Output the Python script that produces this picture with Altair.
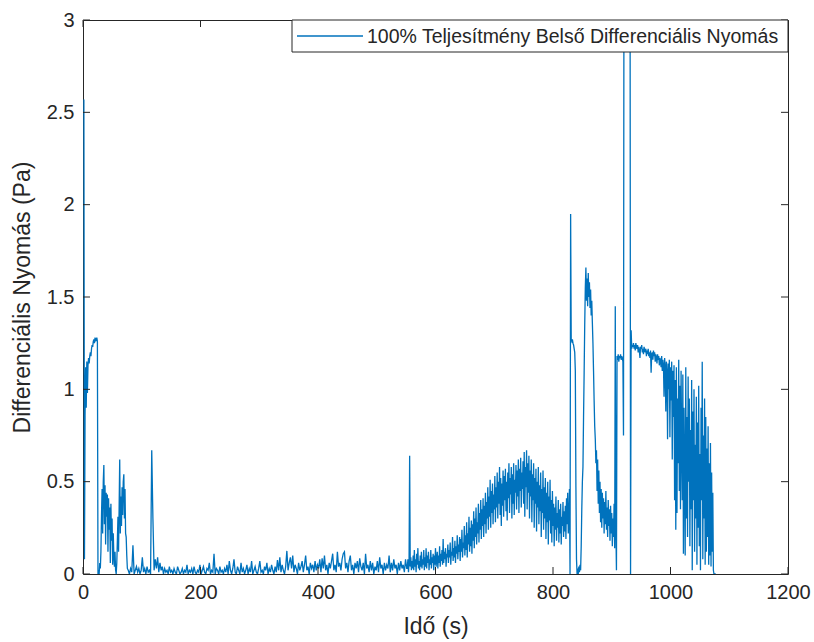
import altair as alt
import pandas as pd

# ---------------- data ----------------
# segment 1: start-up, 1.5..25.5 s every 1 s
seg1_t0, seg1_dt = 1.5, 1
seg1_vals = [2.57, 0.08, 0.86, 1.12, 0.9, 1.15, 0.98, 1.13, 1.17, 1.14,
             1.18, 1.2, 1.18, 1.22, 1.24, 1.23, 1.26, 1.27, 1.25, 1.28,
             1.26, 1.27, 1.28, 1.26, 0.0]

# segment 2: early bursts, 26.5..75.5 s every 1 s
seg2_t0, seg2_dt = 26.5, 1
seg2_vals = [0.02, 0.0, 0.06, 0.03, 0.12, 0.32, 0.46, 0.22, 0.5, 0.59,
             0.27, 0.48, 0.16, 0.44, 0.31, 0.43, 0.12, 0.41, 0.24, 0.36,
             0.06, 0.38, 0.18, 0.3, 0.05, 0.22, 0.1, 0.04, 0.12, 0.02,
             0.0, 0.06, 0.18, 0.31, 0.12, 0.36, 0.62, 0.22, 0.42, 0.26,
             0.47, 0.32, 0.5, 0.54, 0.3, 0.46, 0.22, 0.2, 0.1, 0.03]

# segment 3: low baseline, 77..551 s every 2 s
seg3_t0, seg3_dt = 77, 2
seg3_vals = [0.02, 0.0, 0.03, 0.01, 0.155, 0.0, 0.02, 0.04, 0.01, 0.03,
             0.0, 0.02, 0.09, 0.01, 0.03, 0.0, 0.04, 0.01, 0.02, 0.0,
             0.67, 0.3, 0.02, 0.08, 0.03, 0.09, 0.01, 0.06, 0.02, 0.04,
             0.0, 0.03, 0.01, 0.02, 0.0, 0.04, 0.01, 0.02, 0.0, 0.03,
             0.01, 0.0, 0.04, 0.02, 0.0, 0.01, 0.03, 0.0, 0.02, 0.01,
             0.05, 0.0, 0.02, 0.01, 0.03, 0.0, 0.04, 0.01, 0.0, 0.02,
             0.01, 0.05, 0.0, 0.02, 0.04, 0.01, 0.0, 0.03, 0.02, 0.06,
             0.0, 0.02, 0.01, 0.11, 0.0, 0.03, 0.02, 0.0, 0.04, 0.01,
             0.02, 0.0, 0.03, 0.01, 0.05, 0.0, 0.07, 0.02, 0.0, 0.03,
             0.08, 0.01, 0.0, 0.04, 0.02, 0.0, 0.06, 0.01, 0.03, 0.0,
             0.02, 0.05, 0.0, 0.03, 0.01, 0.07, 0.0, 0.02, 0.04, 0.01,
             0.0, 0.03, 0.07, 0.01, 0.02, 0.0, 0.04, 0.02, 0.06, 0.0,
             0.03, 0.01, 0.05, 0.02, 0.0, 0.04, 0.01, 0.075, 0.02, 0.09,
             0.01, 0.05, 0.02, 0.0, 0.04, 0.125, 0.02, 0.06, 0.09, 0.03,
             0.1, 0.01, 0.05, 0.03, 0.0, 0.06, 0.02, 0.04, 0.07, 0.01,
             0.05, 0.1, 0.02, 0.04, 0.0, 0.06, 0.03, 0.05, 0.01, 0.07,
             0.02, 0.05, 0.03, 0.08, 0.01, 0.085, 0.03, 0.1, 0.02, 0.05,
             0.0, 0.06, 0.03, 0.07, 0.11, 0.02, 0.05, 0.01, 0.12, 0.04,
             0.06, 0.02, 0.08, 0.11, 0.12, 0.03, 0.06, 0.01, 0.07, 0.1,
             0.02, 0.05, 0.0, 0.06, 0.03, 0.07, 0.01, 0.085, 0.04, 0.02,
             0.06, 0.0, 0.11, 0.03, 0.05, 0.01, 0.07, 0.02, 0.06, 0.0,
             0.04, 0.02, 0.07, 0.01, 0.09, 0.03, 0.05, 0.0, 0.06, 0.02,
             0.05, 0.03, 0.1, 0.01, 0.06, 0.02, 0.08, 0.03, 0.05, 0.0,
             0.06, 0.02, 0.07, 0.03, 0.05, 0.01, 0.08, 0.03]

# segment 4: rising hump, 552..827 s every 1 s
seg4_t0, seg4_dt = 552, 1
seg4_vals = [0.03, 0.08, 0.01, 0.06, 0.64, 0.04, 0.09, 0.02, 0.07, 0.03,
             0.1, 0.02, 0.13, 0.04, 0.08, 0.01, 0.11, 0.05, 0.14, 0.03,
             0.07, 0.02, 0.1, 0.04, 0.12, 0.03, 0.08, 0.05, 0.13, 0.02,
             0.09, 0.04, 0.14, 0.03, 0.1, 0.06, 0.12, 0.02, 0.08, 0.05,
             0.13, 0.03, 0.09, 0.06, 0.11, 0.02, 0.1, 0.05, 0.14, 0.04,
             0.08, 0.12, 0.03, 0.1, 0.06, 0.15, 0.04, 0.11, 0.07, 0.13,
             0.05, 0.19, 0.06, 0.12, 0.08, 0.14, 0.04, 0.11, 0.09, 0.16,
             0.06, 0.13, 0.09, 0.17, 0.05, 0.12, 0.1, 0.2, 0.07, 0.14,
             0.09, 0.18, 0.06, 0.15, 0.11, 0.21, 0.08, 0.16, 0.12, 0.2,
             0.07, 0.19, 0.12, 0.24, 0.09, 0.17, 0.14, 0.26, 0.1, 0.21,
             0.13, 0.28, 0.09, 0.22, 0.16, 0.31, 0.12, 0.25, 0.15, 0.29,
             0.11, 0.27, 0.18, 0.34, 0.14, 0.3, 0.2, 0.36, 0.16, 0.28,
             0.22, 0.38, 0.17, 0.33, 0.24, 0.4, 0.19, 0.35, 0.26, 0.41,
             0.2, 0.37, 0.27, 0.44, 0.22, 0.39, 0.3, 0.47, 0.24, 0.42,
             0.31, 0.51, 0.25, 0.45, 0.33, 0.49, 0.27, 0.43, 0.35, 0.53,
             0.28, 0.47, 0.36, 0.55, 0.3, 0.5, 0.38, 0.58, 0.32, 0.52,
             0.26, 0.49, 0.37, 0.56, 0.31, 0.53, 0.4, 0.57, 0.34, 0.5,
             0.29, 0.55, 0.41, 0.6, 0.33, 0.52, 0.43, 0.58, 0.3, 0.54,
             0.38, 0.6, 0.32, 0.51, 0.44, 0.59, 0.35, 0.56, 0.42, 0.62,
             0.33, 0.57, 0.45, 0.63, 0.36, 0.55, 0.46, 0.61, 0.38, 0.66,
             0.31, 0.58, 0.47, 0.67, 0.35, 0.6, 0.44, 0.64, 0.3, 0.56,
             0.42, 0.62, 0.28, 0.54, 0.4, 0.6, 0.25, 0.52, 0.38, 0.57,
             0.23, 0.5, 0.36, 0.58, 0.27, 0.48, 0.34, 0.55, 0.2, 0.46,
             0.33, 0.56, 0.24, 0.47, 0.3, 0.52, 0.19, 0.44, 0.28, 0.5,
             0.16, 0.42, 0.29, 0.51, 0.22, 0.4, 0.17, 0.45, 0.26, 0.38,
             0.15, 0.36, 0.24, 0.42, 0.18, 0.33, 0.25, 0.4, 0.17, 0.35,
             0.22, 0.38, 0.16, 0.31, 0.26, 0.39, 0.2, 0.34, 0.23, 0.37,
             0.19, 0.41, 0.27, 0.44, 0.22, 0.3]

# segment 5: spikes, plateau and noisy end, 828..1077 s every 1 s
seg5_t0, seg5_dt = 828, 1
seg5_vals = [0.46, 0.0, 1.95, 1.27, 1.26, 1.27, 1.25, 1.24, 1.22, 1.2,
             1.1, 0.47, 0.08, 0.0, 0.03, 0.0, 0.04, 0.01, 0.05, 0.02,
             0.15, 0.35, 0.5, 0.58, 0.85, 1.09, 1.35, 1.55, 1.66, 1.48,
             1.6, 1.45, 1.63, 1.5, 1.58, 1.44, 1.54, 1.4, 1.48, 1.36,
             1.25, 1.1, 0.94, 0.8, 0.73, 0.6, 0.67, 0.45, 0.62, 0.38,
             0.56, 0.33, 0.5, 0.28, 0.46, 0.25, 0.44, 0.3, 0.41, 0.22,
             0.39, 0.27, 0.45, 0.24, 0.36, 0.2, 0.4, 0.26, 0.35, 0.18,
             0.37, 0.22, 0.33, 0.15, 0.3, 0.2, 0.38, 0.14, 1.45, 0.25,
             0.02, 1.18, 1.16, 1.19, 1.15, 1.18, 1.17, 1.19, 1.16, 1.18,
             1.17, 1.15, 0.75, 4.0, 4.0, 4.0, 4.0, 4.0, 4.0, 4.0,
             4.0, 4.0, 4.0, 4.0, 0.0, 1.32, 1.22, 1.24, 1.23, 1.25,
             1.22, 1.24, 1.21, 1.25, 1.23, 1.22, 1.24, 1.2, 1.23, 1.21,
             1.17, 1.23, 1.22, 1.24, 1.2, 1.22, 1.19, 1.23, 1.21, 1.2,
             1.22, 1.18, 1.21, 1.19, 1.22, 1.18, 1.2, 1.17, 1.21, 1.09,
             1.19, 1.2, 1.16, 1.21, 1.18, 1.2, 1.15, 1.19, 1.17, 1.14,
             1.19, 1.16, 1.18, 1.13, 1.17, 1.15, 1.12, 1.18, 1.1, 1.16,
             1.13, 0.96, 1.17, 1.12, 0.88, 1.15, 1.09, 0.73, 1.14, 1.0,
             1.16, 0.74, 1.12, 0.94, 1.15, 0.62, 1.1, 0.85, 1.13, 0.4,
             1.05, 0.24, 1.12, 0.33, 0.95, 0.6, 1.16, 0.45, 1.02, 0.35,
             1.1, 0.7, 0.4, 1.08, 0.11, 0.9, 0.55, 0.1, 1.12, 0.3,
             0.85, 0.2, 1.07, 0.5, 0.95, 0.15, 0.78, 0.35, 1.05, 0.02,
             0.88, 0.4, 1.0, 0.12, 0.7, 0.3, 0.96, 0.05, 0.82, 0.25,
             1.02, 0.15, 0.65, 0.02, 0.9, 0.4, 1.15, 0.08, 0.75, 0.3,
             0.95, 0.05, 0.85, 0.12, 0.68, 0.2, 0.8, 0.05, 0.6, 0.1,
             0.71, 0.04, 0.55, 0.12, 0.44, 0.02, 0.0, 0.0, 0.0, 0.0]

x_tick_values = [0, 200, 400, 600, 800, 1000, 1200]
y_tick_values = [0, 0.5, 1, 1.5, 2, 2.5, 3]
x_title = "Idő (s)"
y_title = "Differenciális Nyomás (Pa)"
legend_label = "100% Teljesítmény Belső Differenciális Nyomás"

# ---------------- table ----------------
segments = [(seg1_t0, seg1_dt, seg1_vals), (seg2_t0, seg2_dt, seg2_vals),
            (seg3_t0, seg3_dt, seg3_vals), (seg4_t0, seg4_dt, seg4_vals),
            (seg5_t0, seg5_dt, seg5_vals)]
times, values = [], []
for t0, dt, vals in segments:
    times += [t0 + i * dt for i in range(len(vals))]
    values += vals
df = pd.DataFrame({"t": times, "p": values})

# ---------------- style ----------------
W, H = 705, 554
BLUE = "#0072BD"
AX = "#262626"
FONT = "Liberation Sans"
TICK_PX = 7
X_DOMAIN = [0, 1200]
Y_DOMAIN = [0, 3]

xs = alt.Scale(domain=X_DOMAIN, nice=False, zero=False)
ys = alt.Scale(domain=Y_DOMAIN, nice=False, zero=False)

axis_common = dict(ticks=False, domain=False, grid=False,
                   labelFlush=False, labelOverlap=False, labelBound=False,
                   labelFontSize=20, titleFontSize=23, titleFontWeight="normal",
                   labelColor=AX, titleColor=AX, labelFont=FONT, titleFont=FONT)
x_axis = alt.Axis(values=x_tick_values, format="d", title=x_title,
                  labelPadding=8, titlePadding=13, **axis_common)
y_axis = alt.Axis(values=y_tick_values, format="~g", title=y_title,
                  labelPadding=9, titlePadding=12, **axis_common)

line = alt.Chart(df).mark_line(color=BLUE, strokeWidth=1.3, clip=True).encode(
    x=alt.X("t:Q", scale=xs, axis=x_axis, title=x_title),
    y=alt.Y("p:Q", scale=ys, axis=y_axis, title=y_title),
)

# inward ticks on all four sides (MATLAB style)
ty = TICK_PX * (Y_DOMAIN[1] - Y_DOMAIN[0]) / H
tx = TICK_PX * (X_DOMAIN[1] - X_DOMAIN[0]) / W
nx, ny = len(x_tick_values), len(y_tick_values)
xt_df = pd.DataFrame({"x": x_tick_values * 2,
                      "y0": [Y_DOMAIN[0]] * nx + [Y_DOMAIN[1] - ty] * nx,
                      "y1": [Y_DOMAIN[0] + ty] * nx + [Y_DOMAIN[1]] * nx})
yt_df = pd.DataFrame({"y": y_tick_values * 2,
                      "x0": [X_DOMAIN[0]] * ny + [X_DOMAIN[1] - tx] * ny,
                      "x1": [X_DOMAIN[0] + tx] * ny + [X_DOMAIN[1]] * ny})

xticks = alt.Chart(xt_df).mark_rule(color=AX, strokeWidth=1).encode(
    x=alt.X("x:Q", scale=xs, axis=x_axis, title=x_title),
    y=alt.Y("y0:Q", scale=ys, axis=y_axis, title=y_title),
    y2="y1:Q",
)
yticks = alt.Chart(yt_df).mark_rule(color=AX, strokeWidth=1).encode(
    y=alt.Y("y:Q", scale=ys, axis=y_axis, title=y_title),
    x=alt.X("x0:Q", scale=xs, axis=x_axis, title=x_title),
    x2="x1:Q",
)

# legend box (top-right, inside the axes)
leg_df = pd.DataFrame({"label": [legend_label]})
leg_box = alt.Chart(leg_df).mark_rect(fill="white", stroke=AX, strokeWidth=1).encode(
    x=alt.value(209), x2=alt.value(705), y=alt.value(0), y2=alt.value(32))
leg_line = alt.Chart(leg_df).mark_rule(color=BLUE, strokeWidth=1.3).encode(
    x=alt.value(214), x2=alt.value(280), y=alt.value(16))
leg_text = alt.Chart(leg_df).mark_text(align="left", baseline="middle", fontSize=19.5,
                                       font=FONT, color=AX).encode(
    x=alt.value(284), y=alt.value(16.5), text="label:N")

chart = alt.layer(line, xticks, yticks, leg_box, leg_line, leg_text).properties(
    width=W, height=H,
    autosize=alt.AutoSizeParams(type="none"),
    padding={"left": 83, "top": 20, "right": 26, "bottom": 68},
    background="white",
).configure_view(stroke=AX, strokeWidth=1)

chart.save("out.html", embed_options={"renderer": "svg", "actions": False})
